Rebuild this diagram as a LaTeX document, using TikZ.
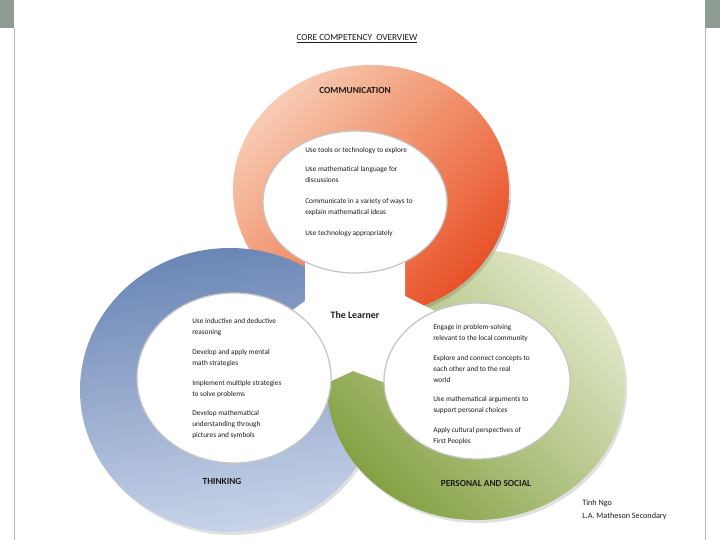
\documentclass[tikz,border=0pt]{standalone}
\usepackage{fontspec}
\setmainfont{Carlito}
\definecolor{barcol}{HTML}{8E9C91}
\definecolor{orL}{HTML}{F7CBB3}
\definecolor{orM}{HTML}{F08E68}
\definecolor{orD}{HTML}{E8522A}
\definecolor{blD}{HTML}{6A86B5}
\definecolor{blL}{HTML}{C9D4E9}
\definecolor{grL}{HTML}{E1E8CA}
\definecolor{grD}{HTML}{85A143}
\definecolor{txt}{HTML}{1C1C1C}
\tikzset{
  bodytext/.style={font=\fontsize{5.2}{7.8}\selectfont, align=left, anchor=north west, inner sep=0pt, text=txt},
  ringlabel/.style={font=\fontsize{6.6}{8}\selectfont\bfseries, inner sep=0pt, text=txt},
  credit/.style={font=\fontsize{5.8}{7}\selectfont, anchor=west, inner sep=0pt, text=txt},
  innerwhite/.style={fill=white, draw=gray!45, line width=0.9pt},
  ringshadow/.style={fill=black, opacity=0.12, even odd rule}
}
\begin{document}
\begin{tikzpicture}[x=0.025cm,y=-0.025cm]
\useasboundingbox (0,0) rectangle (720,540);
\fill[white] (0,0) rectangle (720,540);
% page frame
\fill[barcol] (0,0) rectangle (14,28);
\fill[barcol] (705,0) rectangle (720,28);
\fill[gray!55] (13.5,28) rectangle (14.5,540);
\fill[gray!55] (705,28) rectangle (706,540);

% title
\node[font=\fontsize{6.6}{8}\selectfont, inner sep=0pt, text=txt] (title) at (357,39) {\underline{CORE COMPETENCY\ \ OVERVIEW}};

% orange ring (Communication)
\fill[ringshadow] (373,193) ellipse [x radius=138, y radius=125] (357,205) ellipse [x radius=92, y radius=71];
\shade[even odd rule, top color=orL, bottom color=orD, middle color=orM, shading angle=45]
  (371,190) ellipse [x radius=138, y radius=125] (355,202) ellipse [x radius=92, y radius=71];

% blue ring (Thinking)
\fill[ringshadow] (232,393) ellipse [x radius=150, y radius=142] (236,381) ellipse [x radius=97, y radius=85];
\shade[even odd rule, top color=blD, bottom color=blL, shading angle=8]
  (230,390) ellipse [x radius=150, y radius=142] (234,378) ellipse [x radius=97, y radius=85];

% green ring (Personal and social)
\fill[ringshadow] (478,388) ellipse [x radius=149, y radius=135] (479,384) ellipse [x radius=93, y radius=78];
\shade[even odd rule, top color=grL, bottom color=grD, shading angle=-45]
  (476,385) ellipse [x radius=149, y radius=135] (477,381) ellipse [x radius=93, y radius=78];

% orange passes over green at top right
\begin{scope}
  \clip (400,200) rectangle (560,330);
  \fill[ringshadow] (373,193) ellipse [x radius=138, y radius=125] (357,205) ellipse [x radius=92, y radius=71];
  \shade[even odd rule, top color=orL, bottom color=orD, middle color=orM, shading angle=45]
    (371,190) ellipse [x radius=138, y radius=125] (355,202) ellipse [x radius=92, y radius=71];
\end{scope}

% centre (The Learner)
\fill[white] (305,245) -- (405,245) -- (405,296) -- (445,316) -- (383,382) -- (353,371)
  -- (327,383) -- (300,330) -- (290,312) -- (305,301) -- cycle;

% inner discs
\path[innerwhite] (355,202) ellipse [x radius=92, y radius=71];
\path[innerwhite] (234,378) ellipse [x radius=97, y radius=85];
\path[innerwhite] (477,381) ellipse [x radius=93, y radius=78];

% labels
\node[ringlabel] (comm) at (355,90) {COMMUNICATION};
\node[ringlabel] (think) at (222,481) {THINKING};
\node[ringlabel] (pers) at (486,483) {PERSONAL AND SOCIAL};
\node[ringlabel, font=\fontsize{7}{8}\selectfont\bfseries] (learner) at (355,315) {The Learner};

% communication items
\node[bodytext] (c1) at (305,147.5) {Use tools or technology to explore};
\node[bodytext] (c2) at (305,166.5) {Use mathematical language for\\discussions};
\node[bodytext] (c3) at (305,198.5) {Communicate in a variety of ways to\\explain mathematical ideas};
\node[bodytext] (c4) at (305,230) {Use technology appropriately};

% thinking items
\node[bodytext] (t1) at (192,318) {Use inductive and deductive\\reasoning};
\node[bodytext] (t2) at (192,349) {Develop and apply mental\\math strategies};
\node[bodytext] (t3) at (192,380) {Implement multiple strategies\\to solve problems};
\node[bodytext] (t4) at (192,410) {Develop mathematical\\understanding through\\pictures and symbols};

% personal and social items
\node[bodytext] (p1) at (433,324) {Engage in problem-solving\\relevant to the local community};
\node[bodytext] (p2) at (433,355) {Explore and connect concepts to\\each other and to the real\\world};
\node[bodytext] (p3) at (433,396) {Use mathematical arguments to\\support personal choices};
\node[bodytext] (p4) at (433,427) {Apply cultural perspectives of\\First Peoples};

% credit
\node[credit] (author) at (582,503) {Tinh Ngo};
\node[credit] (school) at (582,516) {L.A. Matheson Secondary};
\end{tikzpicture}
\end{document}
